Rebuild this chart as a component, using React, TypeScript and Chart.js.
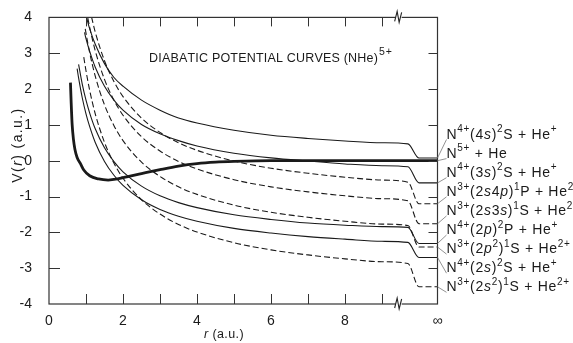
import React, { useEffect, useRef } from 'react';
import { Chart, registerables } from 'chart.js';
Chart.register(...registerables);

// ---- data (r in a.u., V in a.u.; r = 10.5 stands for infinity) ----
const R_4S = [1.0, 1.1, 1.25, 1.5, 1.75, 2, 2.5, 3, 3.5, 4, 5, 6, 7, 8, 9, 9.7, 10, 10.5];
const V_4S = [4.05, 3.68, 3.25, 2.71, 2.33, 2.08, 1.69, 1.41, 1.19, 1.05, 0.85, 0.71, 0.62, 0.55, 0.5, 0.47, 0.075, 0.075];

const R_N5 = [0.58, 0.6, 0.625, 0.66, 0.7, 0.76, 0.85, 0.94, 1.1, 1.34, 1.6, 1.85, 2.1, 2.5, 3, 3.5, 4, 4.5, 5, 6, 8, 9.7, 10, 10.5];
const V_N5 = [2.18, 1.6, 1.02, 0.6, 0.32, 0.09, -0.08, -0.26, -0.42, -0.51, -0.54, -0.51, -0.45, -0.36, -0.25, -0.15, -0.08, -0.04, -0.02, 0, 0, 0, 0, 0];

const R_3S = [0.96, 1.0, 1.1, 1.25, 1.5, 1.75, 2, 2.5, 3, 3.5, 4, 5, 6, 7, 8, 9, 9.7, 10, 10.5];
const V_3S = [3.58, 3.41, 3.05, 2.61, 2.08, 1.7, 1.41, 1.01, 0.75, 0.56, 0.41, 0.21, 0.08, -0.01, -0.09, -0.14, -0.17, -0.62, -0.62];

const R_2S4P = [1.15, 1.25, 1.5, 1.75, 2, 2.5, 3, 3.5, 4, 5, 6, 7, 8, 9, 9.7, 10, 10.5];
const V_2S4P = [4.01, 3.59, 2.79, 2.22, 1.79, 1.19, 0.79, 0.5, 0.29, -0.01, -0.21, -0.35, -0.46, -0.54, -0.6, -1.2, -1.2];

const R_2S3S = [1.05, 1.1, 1.25, 1.5, 1.75, 2, 2.5, 3, 3.5, 4, 5, 6, 7, 8, 9, 9.7, 10, 10.5];
const V_2S3S = [3.98, 3.72, 3.07, 2.27, 1.7, 1.27, 0.67, 0.27, -0.02, -0.23, -0.53, -0.73, -0.87, -0.98, -1.06, -1.12, -1.76, -1.76];

const R_2P = [0.8, 0.9, 1.0, 1.1, 1.25, 1.5, 1.75, 2, 2.5, 3, 3.5, 4, 5, 6, 7, 8, 9, 9.7, 10, 10.5];
const V_2P = [2.69, 2.13, 1.69, 1.33, 0.89, 0.36, -0.02, -0.31, -0.71, -0.98, -1.17, -1.31, -1.51, -1.64, -1.74, -1.8, -1.84, -1.86, -2.31, -2.31];

const R_2P2 = [0.98, 1.0, 1.1, 1.25, 1.5, 1.75, 2, 2.5, 3, 3.5, 4, 5, 6, 7, 8, 9, 9.7, 10, 10.5];
const V_2P2 = [3.68, 3.56, 3.01, 2.36, 1.56, 0.99, 0.56, -0.04, -0.44, -0.73, -0.94, -1.24, -1.44, -1.58, -1.69, -1.77, -1.81, -2.41, -2.41];

const R_2S = [0.76, 0.8, 0.9, 1.0, 1.1, 1.25, 1.5, 1.75, 2, 2.5, 3, 3.5, 4, 5, 6, 7, 8, 9, 9.7, 10, 10.5];
const V_2S = [2.57, 2.31, 1.75, 1.31, 0.95, 0.51, -0.02, -0.4, -0.69, -1.09, -1.36, -1.55, -1.69, -1.89, -2.02, -2.12, -2.19, -2.25, -2.28, -2.7, -2.7];

const R_2S2 = [0.94, 1.0, 1.1, 1.25, 1.5, 1.75, 2, 2.5, 3, 3.5, 4, 5, 6, 7, 8, 9, 9.7, 10, 10.5];
const V_2S2 = [2.89, 2.51, 1.96, 1.31, 0.51, -0.06, -0.49, -1.09, -1.49, -1.78, -1.99, -2.29, -2.49, -2.63, -2.74, -2.82, -2.87, -3.52, -3.52];

// curve labels, top to bottom (^{} superscript, _{} italic)
const CURVE_LABELS = [
  'N^{4+}(4_{s})^{2}S + He^{+}',
  'N^{5+} + He',
  'N^{4+}(3_{s})^{2}S + He^{+}',
  'N^{3+}(2_{s}4_{p})^{1}P + He^{2+}',
  'N^{3+}(2_{s}3_{s})^{1}S + He^{2+}',
  'N^{4+}(2_{p})^{2}P + He^{+}',
  'N^{3+}(2_{p}^{2})^{1}S + He^{2+}',
  'N^{4+}(2_{s})^{2}S + He^{+}',
  'N^{3+}(2_{s}^{2})^{1}S + He^{2+}',
];
const LABEL_ASYMPTOTES = [0.075, 0, -0.62, -1.2, -1.76, -2.31, -2.41, -2.7, -3.52];

const TITLE = 'DIABATIC POTENTIAL CURVES (NHe)^{5+}';
const Y_TITLE = 'V(_{r}) (a.u.)';
const X_TITLE = '_{r} (a.u.)';

const X_LABEL_TICKS = [0, 2, 4, 6, 8];
const X_INF = 10.5;
const X_MARKS = [1, 2, 3, 4, 5, 6, 7, 8, 9];
const Y_MARKS = [-3, -2, -1, 0, 1, 2, 3];

const FONT = '"Liberation Sans", Arial, sans-serif';
const INK = '#1a1a1a';

type Seg = { t: string; sup?: boolean; it?: boolean };
function parseRich(s: string): Seg[] {
  const out: Seg[] = [];
  let buf = '';
  let i = 0;
  while (i < s.length) {
    if ((s[i] === '^' || s[i] === '_') && s[i + 1] === '{') {
      if (buf) { out.push({ t: buf }); buf = ''; }
      const end = s.indexOf('}', i);
      const inner = s.slice(i + 2, end);
      out.push(s[i] === '^' ? { t: inner, sup: true } : { t: inner, it: true });
      i = end + 1;
    } else {
      buf += s[i];
      i++;
    }
  }
  if (buf) out.push({ t: buf });
  return out;
}

function segFont(seg: Seg, size: number) {
  const sz = seg.sup ? Math.round(size * 0.72) : size;
  return `${seg.it ? 'italic ' : ''}${sz}px ${FONT}`;
}

function spacedWidth(ctx: any, text: string, ls: number) {
  let w = 0;
  for (const ch of text) w += ctx.measureText(ch).width + ls;
  return w;
}

function richWidth(ctx: any, segs: Seg[], size: number, ls: number) {
  let w = 0;
  for (const s of segs) {
    ctx.font = segFont(s, size);
    w += spacedWidth(ctx, s.t, ls);
  }
  return w;
}

function drawRich(ctx: any, segs: Seg[], x: number, y: number, size: number, ls: number) {
  let cx = x;
  ctx.textBaseline = 'alphabetic';
  ctx.textAlign = 'left';
  for (const s of segs) {
    ctx.font = segFont(s, size);
    const yy = s.sup ? y - size * 0.45 : y;
    for (const ch of s.t) {
      ctx.fillText(ch, cx, yy);
      cx += ctx.measureText(ch).width + ls;
    }
  }
  return cx;
}

const decorPlugin = {
  id: 'decor',
  afterDraw(chart: any) {
    const ctx = chart.ctx;
    const { left, right, top, bottom } = chart.chartArea;
    const xs = chart.scales.x;
    const ys = chart.scales.y;
    ctx.save();
    ctx.strokeStyle = '#333';
    ctx.fillStyle = INK;
    ctx.lineWidth = 1.2;
    ctx.strokeRect(left, top, right - left, bottom - top);
    // inward ticks
    ctx.lineWidth = 1;
    ctx.beginPath();
    for (const v of X_MARKS) {
      const px = Math.round(xs.getPixelForValue(v)) + 0.5;
      ctx.moveTo(px, bottom); ctx.lineTo(px, bottom - 10);
      ctx.moveTo(px, top); ctx.lineTo(px, top + 9);
    }
    for (const v of Y_MARKS) {
      const py = Math.round(ys.getPixelForValue(v)) + 0.5;
      ctx.moveTo(left, py); ctx.lineTo(left + 11, py);
      ctx.moveTo(right, py); ctx.lineTo(right - 9, py);
    }
    ctx.stroke();
    // axis break marks
    const bx = xs.getPixelForValue(9.45);
    for (const by of [top, bottom]) {
      ctx.fillStyle = '#fff';
      ctx.fillRect(bx - 3, by - 1.5, 6, 3);
      ctx.beginPath();
      ctx.moveTo(bx - 4, by + 4);
      ctx.lineTo(bx - 1.5, by - 6);
      ctx.lineTo(bx + 0.5, by + 5);
      ctx.lineTo(bx + 3, by - 5);
      ctx.strokeStyle = '#222';
      ctx.lineWidth = 1.1;
      ctx.stroke();
    }
    ctx.fillStyle = INK;
    // title
    const tSegs = parseRich(TITLE);
    const main = tSegs.filter((s) => !s.sup);
    const baseW = richWidth(ctx, main, 12.5, 0);
    const nChars = main.reduce((a, s) => a + s.t.length, 0);
    const ls = (229 - baseW) / nChars;
    let cx = 149;
    for (const s of tSegs) {
      if (s.sup) cx = drawRich(ctx, [{ t: s.t }], cx + 1, 55, 10.5, 0.8);
      else cx = drawRich(ctx, [s], cx, 61.5, 12.5, ls);
    }
    // y title
    const yT = parseRich(Y_TITLE);
    const yw = richWidth(ctx, yT, 14, 1.4);
    ctx.save();
    ctx.translate(21.5, 145);
    ctx.rotate(-Math.PI / 2);
    drawRich(ctx, yT, -yw / 2, 0, 14, 1.4);
    ctx.restore();
    // x title
    const xT = parseRich(X_TITLE);
    const xw = richWidth(ctx, xT, 12.5, 0.4);
    drawRich(ctx, xT, 224 - xw / 2, 338, 12.5, 0.4);
    // curve labels with leader lines
    ctx.strokeStyle = '#777';
    ctx.lineWidth = 0.8;
    CURVE_LABELS.forEach((lab, i) => {
      const ly = 138.5 + i * 19.1;
      const ay = ys.getPixelForValue(LABEL_ASYMPTOTES[i]);
      ctx.beginPath();
      ctx.moveTo(right, ay);
      ctx.lineTo(right + 9, ly + 1);
      ctx.stroke();
      drawRich(ctx, parseRich(lab), right + 9, ly, 14, 0.7);
    });
    ctx.restore();
  },
};

const CURVES = [
  { r: R_4S, v: V_4S, dash: false, w: 1.1 },
  { r: R_N5, v: V_N5, dash: false, w: 2.8 },
  { r: R_3S, v: V_3S, dash: false, w: 1.1 },
  { r: R_2S4P, v: V_2S4P, dash: true, w: 1.1 },
  { r: R_2S3S, v: V_2S3S, dash: true, w: 1.1 },
  { r: R_2P, v: V_2P, dash: false, w: 1.1 },
  { r: R_2P2, v: V_2P2, dash: true, w: 1.1 },
  { r: R_2S, v: V_2S, dash: false, w: 1.1 },
  { r: R_2S2, v: V_2S2, dash: true, w: 1.1 },
];

export default function App() {
  const ref = useRef<HTMLCanvasElement | null>(null);
  useEffect(() => {
    if (!ref.current) return;
    const chart = new Chart(ref.current, {
      type: 'scatter',
      data: {
        datasets: CURVES.map((c, i) => ({
          label: CURVE_LABELS[i],
          data: c.r.map((r, j) => ({ x: r, y: c.v[j] })),
          showLine: true,
          borderColor: INK,
          backgroundColor: INK,
          borderWidth: c.w,
          borderDash: c.dash ? [6, 3] : [],
          pointRadius: 0,
          cubicInterpolationMode: 'monotone',
          fill: false,
        })),
      },
      options: {
        animation: false,
        responsive: false,
        devicePixelRatio: 1,
        layout: { padding: { top: 16, right: 135.5, left: 0, bottom: 0 } },
        plugins: { legend: { display: false }, tooltip: { enabled: false } },
        scales: {
          x: {
            type: 'linear',
            min: 0,
            max: X_INF,
            grid: { display: false },
            border: { display: false },
            afterBuildTicks: (scale: any) => {
              scale.ticks = [...X_LABEL_TICKS, X_INF].map((v) => ({ value: v }));
            },
            afterFit: (scale: any) => { scale.height = 39; },
            ticks: {
              autoSkip: false,
              maxRotation: 0,
              padding: 1,
              color: INK,
              font: { family: FONT, size: 14 },
              callback: (v: any) => (v === X_INF ? '∞' : String(v)),
            },
          },
          y: {
            type: 'linear',
            min: -4,
            max: 4,
            grid: { display: false },
            border: { display: false },
            afterFit: (scale: any) => { scale.width = 49; },
            ticks: {
              stepSize: 1,
              padding: 9,
              color: INK,
              font: { family: FONT, size: 14 },
              callback: (v: any) => String(v),
            },
          },
        },
      },
      plugins: [decorPlugin],
    } as any);
    return () => chart.destroy();
  }, []);
  return (
    <div style={{ position: 'fixed', left: 0, top: 0, width: 573, height: 343, background: '#fff' }}>
      <canvas ref={ref} width={573} height={343} />
    </div>
  );
}
